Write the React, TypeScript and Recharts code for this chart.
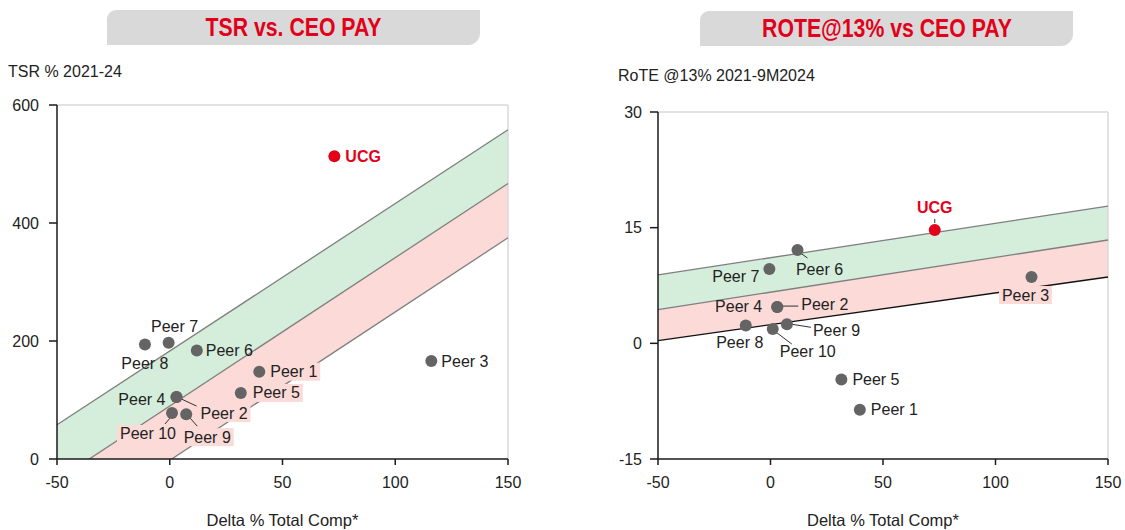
import {
  Area,
  ComposedChart,
  Label,
  Line,
  ReferenceLine,
  Scatter,
  XAxis,
  YAxis,
} from "recharts";

// companies, same order in every array
const names = ["UCG", "Peer 1", "Peer 2", "Peer 3", "Peer 4", "Peer 5", "Peer 6", "Peer 7", "Peer 8", "Peer 9", "Peer 10"];
const compDelta = [73, 39.7, 3, 116, 3, 31.5, 12, -0.5, -11, 7.3, 1];
const tsr = [513, 148, 105, 166, 105, 112, 184, 197, 194, 76, 78];
const rote = [14.7, -8.6, 4.7, 8.6, 4.7, -4.7, 12.1, 9.65, 2.3, 2.47, 1.86];

// band edges at the two ends of the x range
const bandX = [-50, 150];
const tsrUpper = [58, 558];
const tsrMid = [-36, 467];
const tsrLower = [-128, 375];
const roteUpper = [8.87, 17.8];
const roteMid = [4.38, 13.4];
const roteLower = [0.35, 8.6];

const xTicks = [-50, 0, 50, 100, 150];
const tsrTicks = [0, 200, 400, 600];
const roteTicks = [-15, 0, 15, 30];

const FONT = "'Liberation Sans', Arial, sans-serif";
const RED = "#e2001a";
const GREEN = "#d4eedb";
const PINK = "#fbdad7";

type Lbl = { dx: number; dy: number; anchor: "start" | "middle" | "end"; bg?: boolean; lead?: number[] };

const tsrLabels: Record<string, Lbl> = {
  UCG: { dx: 11, dy: 0, anchor: "start" },
  "Peer 1": { dx: 11, dy: 0, anchor: "start", bg: true },
  "Peer 2": { dx: 24, dy: 16, anchor: "start", bg: true, lead: [5, 2, 20, 9] },
  "Peer 3": { dx: 10, dy: 0, anchor: "start" },
  "Peer 4": { dx: -11, dy: 2, anchor: "end" },
  "Peer 5": { dx: 12, dy: 0, anchor: "start", bg: true },
  "Peer 6": { dx: 9, dy: 0, anchor: "start" },
  "Peer 7": { dx: 6, dy: -16, anchor: "middle" },
  "Peer 8": { dx: 0, dy: 19, anchor: "middle" },
  "Peer 9": { dx: 21, dy: 23, anchor: "middle", bg: true, lead: [4, 4, 11, 12] },
  "Peer 10": { dx: -24, dy: 21, anchor: "middle", bg: true, lead: [-1, 4, -7, 11] },
};

const roteLabels: Record<string, Lbl> = {
  UCG: { dx: 0, dy: -22, anchor: "middle", lead: [0, -11, 0, -7] },
  "Peer 1": { dx: 11, dy: 0, anchor: "start" },
  "Peer 2": { dx: 24, dy: -3, anchor: "start", lead: [5, -1, 21, -1] },
  "Peer 3": { dx: -6, dy: 18, anchor: "middle", bg: true },
  "Peer 4": { dx: -15, dy: -1, anchor: "end" },
  "Peer 5": { dx: 11, dy: 0, anchor: "start" },
  "Peer 6": { dx: 22, dy: 19, anchor: "middle", lead: [3, 3, 10, 8] },
  "Peer 7": { dx: -10, dy: 8, anchor: "end" },
  "Peer 8": { dx: -6, dy: 17, anchor: "middle" },
  "Peer 9": { dx: 26, dy: 6, anchor: "start", lead: [5, 0, 24, 3] },
  "Peer 10": { dx: 35, dy: 23, anchor: "middle", lead: [3, 3, 19, 15] },
};

const textWidth = (s: string) => (s.length === 7 ? 56 : 47);

const makeDot = (labels: Record<string, Lbl>) => (props: any) => {
  const { cx, cy, payload } = props;
  const l = labels[payload.name];
  const ucg = payload.name === "UCG";
  const w = textWidth(payload.name);
  const tx = cx + l.dx;
  const ty = cy + l.dy;
  const left = l.anchor === "start" ? tx : l.anchor === "middle" ? tx - w / 2 : tx - w;
  return (
    <g>
      {l.lead && (
        <line x1={cx + l.lead[0]} y1={cy + l.lead[1]} x2={cx + l.lead[2]} y2={cy + l.lead[3]} stroke="#333" strokeWidth={1} />
      )}
      <circle cx={cx} cy={cy} r={6} fill={ucg ? RED : "#646464"} />
      {l.bg && <rect x={left - 3} y={ty - 9} width={w + 6} height={18} fill={PINK} />}
      <text
        x={tx}
        y={ty}
        textAnchor={l.anchor}
        dominantBaseline="central"
        fontSize={16}
        fontFamily={FONT}
        fontWeight={ucg ? 700 : 400}
        fill={ucg ? RED : "#222"}
      >
        {payload.name}
      </text>
    </g>
  );
};

const tsrPoints = names.map((name, i) => ({ name, x: compDelta[i], y: tsr[i] }));
const rotePoints = names.map((name, i) => ({ name, x: compDelta[i], y: rote[i] }));

const tsrBand = bandX.map((x, i) => ({
  x,
  upper: tsrUpper[i],
  mid: tsrMid[i],
  lower: tsrLower[i],
  green: [tsrMid[i], tsrUpper[i]],
  red: [tsrLower[i], tsrMid[i]],
}));
const roteBand = bandX.map((x, i) => ({
  x,
  upper: roteUpper[i],
  mid: roteMid[i],
  lower: roteLower[i],
  green: [roteMid[i], roteUpper[i]],
  red: [roteLower[i], roteMid[i]],
}));

const tick = { fill: "#222", fontSize: 16, fontFamily: FONT };

function Banner({ text, left, top }: { text: string; left: number; top: number }) {
  return (
    <div
      style={{
        position: "absolute",
        left,
        top,
        width: 373,
        height: 35,
        background: "#d9d9d9",
        borderRadius: "9px 0 12px 0",
        color: RED,
        fontFamily: FONT,
        fontWeight: 700,
        fontSize: 25,
        lineHeight: "35px",
        textAlign: "center",
      }}
    >
      <span style={{ display: "inline-block", transform: "scaleX(0.85)" }}>{text}</span>
    </div>
  );
}

function Panel({
  data,
  points,
  labels,
  yDomain,
  yTicks,
  lowerStroke,
  width,
  margin,
  yWidth,
  yTickMargin,
}: any) {
  return (
    <ComposedChart width={width} height={530} data={data} margin={margin}>
      <XAxis
        dataKey="x"
        type="number"
        domain={[-50, 150]}
        ticks={xTicks}
        tickSize={6}
        tickMargin={12}
        tick={tick}
        stroke="#1a1a1a"
        strokeWidth={1.5}
        height={71}
        interval={0}
      >
        <Label value="Delta % Total Comp*" position="insideBottom" offset={4} fill="#222" fontSize={16.5} fontFamily={FONT} />
      </XAxis>
      <YAxis
        type="number"
        domain={yDomain}
        ticks={yTicks}
        allowDataOverflow
        tickSize={8}
        tickMargin={yTickMargin}
        tick={tick}
        stroke="#1a1a1a"
        strokeWidth={1.5}
        width={yWidth}
        interval={0}
      />
      <ReferenceLine y={yDomain[1]} stroke="#d9d9d9" strokeWidth={1.5} />
      <ReferenceLine x={150} stroke="#d9d9d9" strokeWidth={1.5} />
      <Area dataKey="green" type="linear" fill={GREEN} fillOpacity={1} stroke="none" isAnimationActive={false} />
      <Area dataKey="red" type="linear" fill={PINK} fillOpacity={1} stroke="none" isAnimationActive={false} />
      <Line dataKey="upper" type="linear" stroke="#7f7f7f" strokeWidth={1.3} dot={false} isAnimationActive={false} />
      <Line dataKey="mid" type="linear" stroke="#7f7f7f" strokeWidth={1.3} dot={false} isAnimationActive={false} />
      <Line dataKey="lower" type="linear" stroke={lowerStroke} strokeWidth={1.3} dot={false} isAnimationActive={false} />
      <Scatter data={points} dataKey="y" shape={makeDot(labels)} isAnimationActive={false} />
    </ComposedChart>
  );
}

export default function App() {
  return (
    <div style={{ position: "absolute", left: 0, top: 0, width: 1125, height: 530, background: "#fff", fontFamily: FONT }}>
      <Banner text="TSR vs. CEO PAY" left={107} top={10} />
      <Banner text="ROTE@13% vs CEO PAY" left={700} top={11} />
      <div style={{ position: "absolute", left: 8, top: 63, fontSize: 16, color: "#222" }}>TSR % 2021-24</div>
      <div style={{ position: "absolute", left: 618, top: 67, fontSize: 16, color: "#222" }}>RoTE @13% 2021-9M2024</div>
      <div style={{ position: "absolute", left: 0, top: 0 }}>
        <Panel
          data={tsrBand}
          points={tsrPoints}
          labels={tsrLabels}
          yDomain={[0, 600]}
          yTicks={tsrTicks}
          lowerStroke="#7f7f7f"
          width={560}
          margin={{ top: 105, right: 52, bottom: 0, left: 0 }}
          yWidth={57}
          yTickMargin={10}
        />
      </div>
      <div style={{ position: "absolute", left: 560, top: 0 }}>
        <Panel
          data={roteBand}
          points={rotePoints}
          labels={roteLabels}
          yDomain={[-15, 30]}
          yTicks={roteTicks}
          lowerStroke="#111"
          width={565}
          margin={{ top: 112, right: 17, bottom: 0, left: 38 }}
          yWidth={60}
          yTickMargin={8}
        />
      </div>
    </div>
  );
}
